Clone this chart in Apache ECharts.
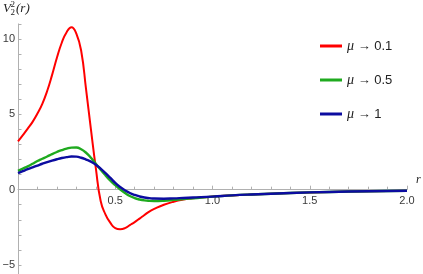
<!DOCTYPE html>
<html>
<head>
<meta charset="utf-8">
<script src="https://cdn.jsdelivr.net/npm/echarts@6/dist/echarts.min.js"></script>
<style>html,body{margin:0;padding:0;background:#fff}#c{width:423px;height:274px}</style>
</head>
<body>
<div id="c"></div>
<script>
// r values (x)
var rValues = [0, 0.025, 0.05, 0.075, 0.1, 0.125, 0.15, 0.175, 0.2, 0.225, 0.25, 0.275, 0.3, 0.325, 0.35, 0.375, 0.4, 0.425, 0.45, 0.475, 0.5, 0.525, 0.55, 0.575, 0.6, 0.625, 0.65, 0.675, 0.7, 0.75, 0.8, 0.85, 0.9, 1.0, 1.1, 1.2, 1.4, 1.6, 1.8, 2.0];
// series values
var mu01 = [3.2, 3.62, 4.05, 4.5, 5.05, 5.7, 6.55, 7.6, 8.75, 9.75, 10.45, 10.78, 10.35, 9.2, 6.65, 4.0, 1.45, -0.75, -1.65, -2.2, -2.55, -2.62, -2.55, -2.35, -2.15, -1.92, -1.68, -1.45, -1.28, -1.0, -0.8, -0.66, -0.57, -0.46, -0.38, -0.32, -0.22, -0.15, -0.1, -0.07];
var mu05 = [1.25, 1.4, 1.55, 1.72, 1.9, 2.05, 2.2, 2.36, 2.5, 2.62, 2.72, 2.79, 2.8, 2.68, 2.45, 2.12, 1.72, 1.32, 0.95, 0.6, 0.3, 0.02, -0.22, -0.42, -0.56, -0.65, -0.71, -0.74, -0.75, -0.73, -0.68, -0.62, -0.57, -0.46, -0.38, -0.32, -0.22, -0.15, -0.1, -0.07];
var mu1 = [1.1, 1.23, 1.36, 1.48, 1.6, 1.72, 1.83, 1.93, 2.02, 2.1, 2.16, 2.2, 2.19, 2.12, 2.0, 1.86, 1.66, 1.4, 1.1, 0.78, 0.45, 0.18, -0.04, -0.22, -0.35, -0.45, -0.52, -0.56, -0.59, -0.6, -0.58, -0.55, -0.52, -0.46, -0.38, -0.32, -0.22, -0.15, -0.1, -0.07];
var seriesNames = ['μ → 0.1', 'μ → 0.5', 'μ → 1'];
var xTickLabels = ['0.5', '1.0', '1.5', '2.0'];
var yTickLabels = ['\u22125', '0', '5', '10'];

function pairs(ys) { return rValues.map(function (r, i) { return [r, ys[i]]; }); }

// layout (pixels)
var H = 274, gridTop = 23.9, gridBottom = -6.1;
var yMin = -6, yMax = 11;
var plotH = H - gridTop - gridBottom;
// distance from the grid's bottom edge up to the y = 0 line
var zeroOffset = plotH * (0 - yMin) / (yMax - yMin);

var chart = echarts.init(document.getElementById('c'), null, { renderer: 'canvas' });
var axisGray = '#b0b0b0';
var labelColor = '#3a3a3a';
chart.setOption({
  animation: false,
  backgroundColor: '#fff',
  grid: { left: 18, right: 16, top: gridTop, bottom: gridBottom, containLabel: false, outerBoundsMode: 'none' },
  legend: {
    orient: 'vertical', left: 315, top: 34, itemGap: 20,
    itemWidth: 22, itemHeight: 3, icon: 'rect',
    textStyle: { fontFamily: 'Liberation Sans, Arial, sans-serif', fontSize: 13, color: '#222', rich: { i: { fontStyle: 'italic', fontFamily: 'Liberation Serif, serif', fontSize: 14, color: '#222' } } },
    formatter: function (name) { return name.replace('μ', '{i|μ}'); },
    data: seriesNames
  },
  graphic: [
    { type: 'text', left: 3, top: 2, style: { text: 'V', font: 'italic 13px "Liberation Serif", serif', fill: '#222' } },
    { type: 'text', left: 10.5, top: 0, style: { text: '2', font: '9px "Liberation Serif", serif', fill: '#222' } },
    { type: 'text', left: 10.5, top: 8.5, style: { text: '2', font: '9px "Liberation Serif", serif', fill: '#222' } },
    { type: 'text', left: 16, top: 2, style: { text: '(r)', font: 'italic 13px "Liberation Serif", serif', fill: '#222' } }
  ],
  xAxis: {
    type: 'value', min: 0, max: 2, interval: 0.5, position: 'bottom', offset: -zeroOffset,
    name: 'r', nameLocation: 'end', nameGap: 9,
    nameTextStyle: { fontStyle: 'italic', fontFamily: 'Liberation Serif, serif', fontSize: 12, color: '#222', verticalAlign: 'bottom', padding: [0, 0, 4, 0] },
    axisLine: { onZero: false, lineStyle: { color: axisGray, width: 1 } },
    axisTick: { inside: true, length: 4, lineStyle: { color: axisGray } },
    minorTick: { show: true, splitNumber: 5, length: 3, lineStyle: { color: axisGray } },
    splitLine: { show: false },
    axisLabel: {
      margin: 6, color: labelColor, fontFamily: 'Liberation Sans, Arial, sans-serif', fontSize: 11,
      showMinLabel: false,
      formatter: function (v) { var s = v.toFixed(1); return xTickLabels.indexOf(s) >= 0 ? s : ''; }
    }
  },
  yAxis: {
    type: 'value', min: yMin, max: yMax, interval: 1,
    axisLine: { onZero: true, lineStyle: { color: axisGray, width: 1 } },
    axisTick: { inside: true, length: 3.5, lineStyle: { color: axisGray } },
    splitLine: { show: false },
    axisLabel: {
      margin: 3, color: labelColor, fontFamily: 'Liberation Sans, Arial, sans-serif', fontSize: 11,
      formatter: function (v) {
        var s = v < 0 ? '\u2212' + Math.abs(v) : String(v);
        return yTickLabels.indexOf(s) >= 0 ? s : '';
      }
    }
  },
  series: [
    { name: seriesNames[0], type: 'line', data: pairs(mu01), smooth: 0.5, showSymbol: false, lineStyle: { color: '#ff0000', width: 2 }, itemStyle: { color: '#ff0000' }, z: 2 },
    { name: seriesNames[1], type: 'line', data: pairs(mu05), smooth: 0.5, showSymbol: false, lineStyle: { color: '#1faa1f', width: 2.4 }, itemStyle: { color: '#1faa1f' }, z: 3 },
    { name: seriesNames[2], type: 'line', data: pairs(mu1), smooth: 0.5, showSymbol: false, lineStyle: { color: '#0c0ca0', width: 2.4 }, itemStyle: { color: '#0c0ca0' }, z: 4 }
  ]
});
</script>
</body>
</html>
